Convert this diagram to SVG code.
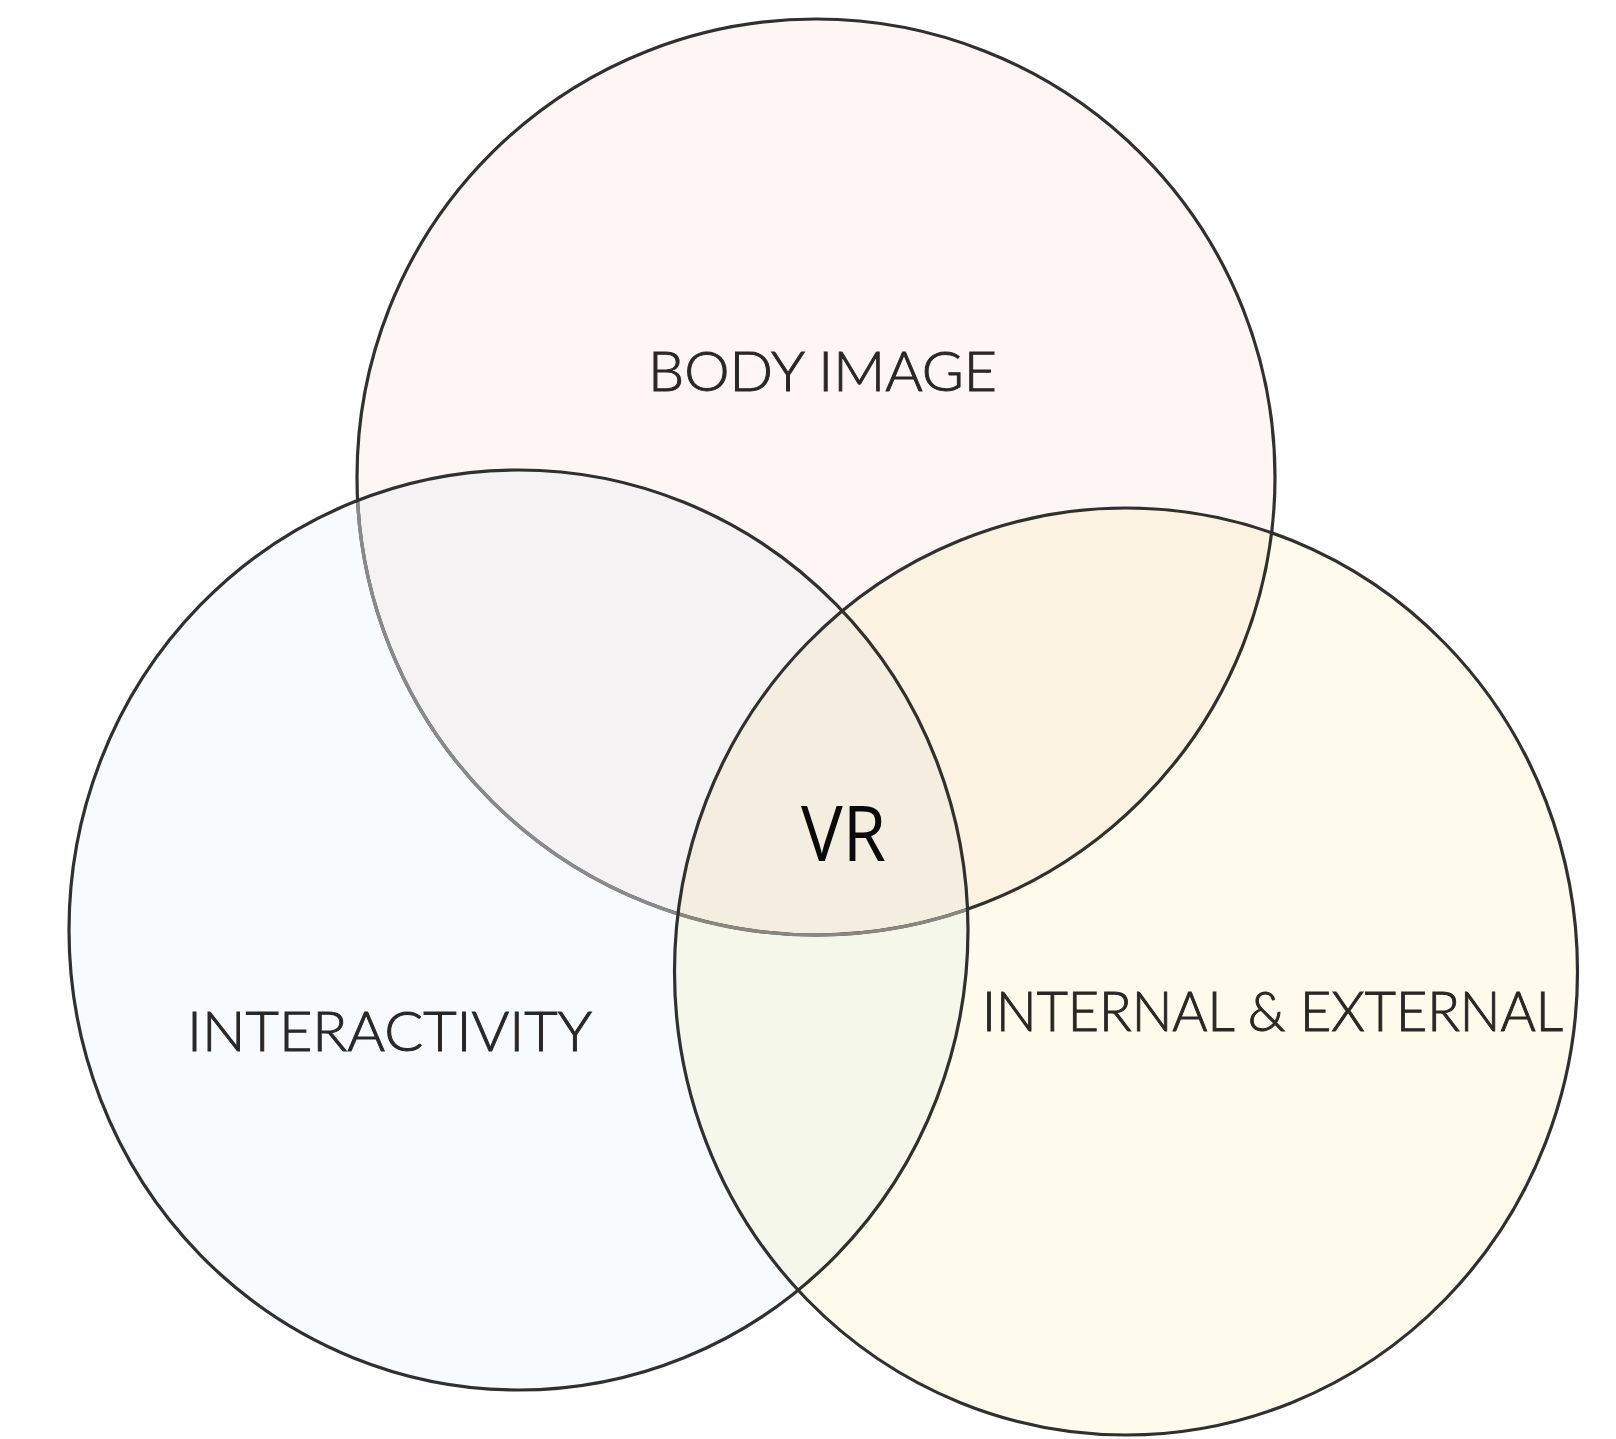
<svg xmlns="http://www.w3.org/2000/svg" width="1616" height="1439" viewBox="0 0 1616 1439">
<style>
.edge{fill:none;stroke:#303030;stroke-width:3.2}
.soft{fill:none;stroke:#8a8a8a;stroke-width:3.4}
.fill{mix-blend-mode:multiply}
.lbl{font-family:Lato,"Liberation Sans",sans-serif;font-weight:300;font-size:56px;fill:#2a2826;stroke:#2a2826;stroke-width:1}
.vr{font-family:"Open Sans","Noto Sans",sans-serif;font-size:76px;fill:#0a0a0a}
</style>
<defs>
<clipPath id="inLeft"><ellipse cx="518.5" cy="930" rx="448" ry="458.5"/></clipPath>
</defs>
<rect width="1616" height="1439" fill="#ffffff"/>
<g id="body-image">
<ellipse cx="816" cy="477" rx="459" ry="458" fill="#fdf6f4"/>
<ellipse class="edge" cx="816" cy="477" rx="459" ry="458"/>
</g>
<g id="interactivity">
<ellipse class="fill" cx="518.5" cy="930" rx="449.5" ry="460" fill="#f7fbfe"/>
<ellipse class="soft" clip-path="url(#inLeft)" cx="816" cy="477" rx="459" ry="458"/>
<ellipse class="edge" cx="518.5" cy="930" rx="449.5" ry="460"/>
</g>
<g id="internal-external">
<ellipse class="fill" cx="1126" cy="971.5" rx="451.5" ry="463.5" fill="#fefbec"/>
<ellipse class="edge" cx="1126" cy="971.5" rx="451.5" ry="463.5"/>
</g>
<g id="connectors"></g>
<g id="labels">
<text class="lbl" x="648" y="391" textLength="349" lengthAdjust="spacingAndGlyphs">BODY IMAGE</text>
<text class="lbl" x="187" y="1051" textLength="405" lengthAdjust="spacingAndGlyphs">INTERACTIVITY</text>
<text class="lbl" x="982" y="1031" textLength="581" lengthAdjust="spacingAndGlyphs">INTERNAL &amp; EXTERNAL</text>
<text class="vr" x="801" y="861" textLength="85" lengthAdjust="spacingAndGlyphs">VR</text>
</g>
</svg>
